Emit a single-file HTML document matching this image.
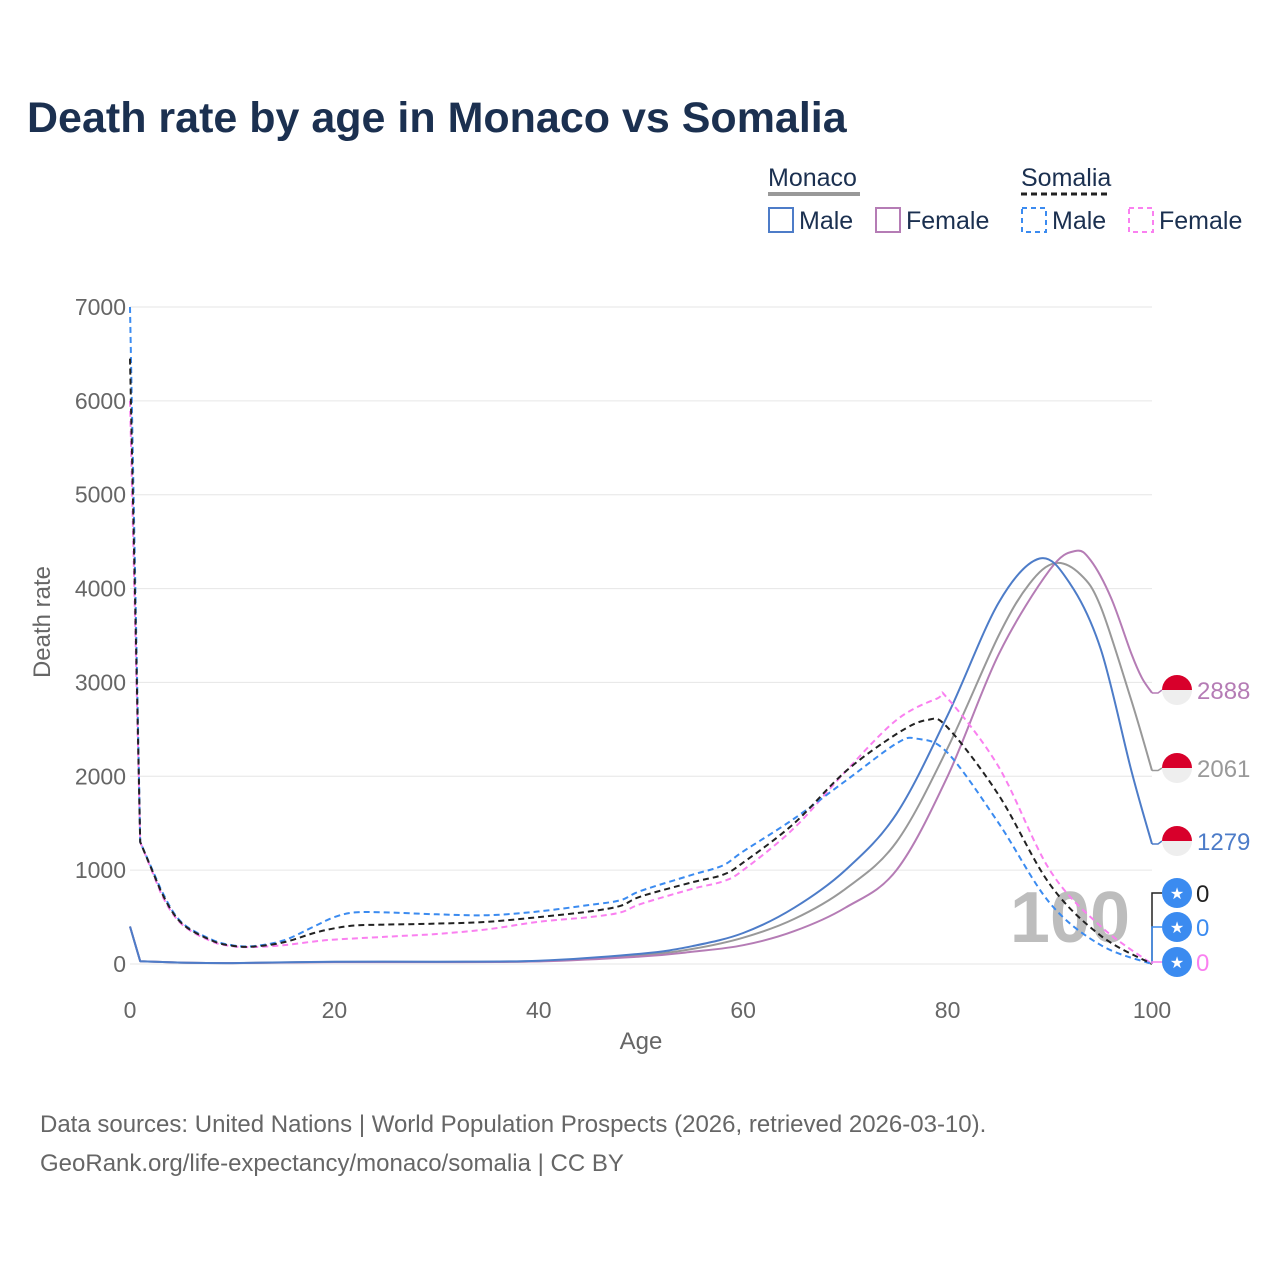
<!DOCTYPE html>
<html><head><meta charset="utf-8">
<style>
body{margin:0;background:#fff;width:1280px;height:1280px;overflow:hidden;font-family:"Liberation Sans",sans-serif;}
svg text{font-family:"Liberation Sans",sans-serif;}
</style></head>
<body>
<svg id="chart" width="1280" height="1280" viewBox="0 0 1280 1280">
<text x="27" y="132" font-size="43" font-weight="bold" fill="#1b3050">Death rate by age in Monaco vs Somalia</text>
<g>
<text x="768" y="186" font-size="25" fill="#1b3050">Monaco</text>
<line x1="768" y1="194" x2="860" y2="194" stroke="#999" stroke-width="4"/>
<text x="1021" y="186" font-size="25" fill="#1b3050">Somalia</text>
<line x1="1021" y1="194" x2="1110" y2="194" stroke="#222" stroke-width="3" stroke-dasharray="6,4"/>
<g><rect x="769" y="208" width="24" height="24" fill="none" stroke="#4d7cc8" stroke-width="2"/><text x="799" y="229" font-size="25" fill="#1b3050">Male</text></g>
<g><rect x="876" y="208" width="24" height="24" fill="none" stroke="#b57cb5" stroke-width="2"/><text x="906" y="229" font-size="25" fill="#1b3050">Female</text></g>
<g><rect x="1022" y="208" width="24" height="24" fill="none" stroke="#3b8bf0" stroke-width="2" stroke-dasharray="5,4"/><text x="1052" y="229" font-size="25" fill="#1b3050">Male</text></g>
<g><rect x="1129" y="208" width="24" height="24" fill="none" stroke="#fa80f0" stroke-width="2" stroke-dasharray="5,4"/><text x="1159" y="229" font-size="25" fill="#1b3050">Female</text></g>
</g>
<g id="grid"></g>
<text x="1070" y="942" font-size="72" font-weight="bold" fill="#bdbdbd" text-anchor="middle">100</text>
<g id="series"></g>
<g id="axes"></g>
<g id="markers"></g>
<text x="40" y="1132" font-size="24" fill="#666">Data sources: United Nations | World Population Prospects (2026, retrieved 2026-03-10).</text>
<text x="40" y="1171" font-size="24" fill="#666">GeoRank.org/life-expectancy/monaco/somalia | CC BY</text>
</svg>
<script>
const yTicks=[0,1000,2000,3000,4000,5000,6000,7000];
const xTicks=[0,20,40,60,80,100];
const monMaleAges=[0,1,5,10,20,30,40,50,55,60,65,70,75,80,85,89,92,95,98,100];
const monMaleVals=[400,30,15,10,25,25,35,110,190,330,600,1000,1600,2650,3850,4320,4050,3350,2050,1279];
const monTotAges=[0,1,5,10,20,30,40,50,55,60,65,70,75,80,85,88,90.5,93,95,98,100];
const monTotVals=[400,30,15,10,22,22,30,95,160,280,480,800,1300,2300,3500,4050,4270,4150,3800,2800,2061];
const monFemAges=[0,1,5,10,20,30,40,50,55,60,65,70,75,80,85,90,92.5,94,96,98,99,100];
const monFemVals=[400,30,15,10,20,20,28,80,130,200,350,600,1000,2000,3300,4200,4400,4300,3900,3300,3050,2888];
const somMaleAges=[0,1,3,5,8,10,12,15,18,20,22,25,30,35,40,45,48,50,55,58,60,65,70,75,77,80,85,90,95,100];
const somMaleVals=[7000,1300,800,450,260,200,190,250,400,500,550,550,530,520,560,630,680,780,950,1050,1200,1550,1950,2350,2400,2250,1500,650,200,0];
const somTotAges=[0,1,3,5,8,10,12,15,18,20,22,25,30,35,40,45,48,50,55,58,60,65,70,75,78,80,85,90,95,100];
const somTotVals=[6450,1300,780,440,250,195,185,230,330,380,410,420,430,450,500,560,620,720,870,950,1080,1500,2050,2450,2600,2520,1800,850,300,0];
const somFemAges=[0,1,3,5,8,10,12,15,18,20,25,30,35,40,45,48,50,55,58,60,65,70,75,79,80,85,90,95,100];
const somFemVals=[6000,1300,760,430,240,190,180,200,240,260,290,320,370,450,500,550,640,800,880,1000,1450,2050,2600,2830,2830,2100,1000,400,0];

const NS="http://www.w3.org/2000/svg";
const X0=130,X1=1152,Y0=964,Y1=307;
const xs=a=>X0+(a/100)*(X1-X0);
const ys=v=>Y0-(v/7000)*(Y0-Y1);
function mk(t,attrs,parent){const e=document.createElementNS(NS,t);for(const k in attrs)e.setAttribute(k,attrs[k]);parent.appendChild(e);return e;}
const grid=document.getElementById('grid'),axes=document.getElementById('axes'),series=document.getElementById('series'),markers=document.getElementById('markers');
yTicks.forEach(v=>{
 const l=mk('line',{x1:X0,x2:X1,y1:ys(v),y2:ys(v),stroke:'#e6e6e6','stroke-width':1},grid);
 
 
 const t=mk('text',{x:126,y:ys(v)+8,'font-size':23,fill:'#666','text-anchor':'end'},axes);
 t.textContent=v;
 
 
});
xTicks.forEach(a=>{
 const t=mk('text',{x:xs(a),y:1018,'font-size':23,fill:'#666','text-anchor':'middle'},axes);
 t.textContent=a;
 
 
});
const xt=mk('text',{x:641,y:1049,'font-size':24,fill:'#666','text-anchor':'middle'},axes);
xt.textContent='Age';


const yt=mk('text',{x:0,y:0,'font-size':24,fill:'#666','text-anchor':'middle',transform:'translate(50,622) rotate(-90)'},axes);
yt.textContent='Death rate';



function line(ages,vals,color,dash,name){
 const P=ages.map((a,i)=>[xs(a),ys(vals[i])]);
 let d='M'+P[0][0].toFixed(1)+','+P[0][1].toFixed(1);
 for(let i=0;i<P.length-1;i++){
  const p0=P[Math.max(0,i-1)],p1=P[i],p2=P[i+1],p3=P[Math.min(P.length-1,i+2)];
  let t=0.5;
  if(i<2) t=0; // keep sharp infant drop
  const c1=[p1[0]+(p2[0]-p0[0])*t/3,p1[1]+(p2[1]-p0[1])*t/3];
  const c2=[p2[0]-(p3[0]-p1[0])*t/3,p2[1]-(p3[1]-p1[1])*t/3];
  d+=' C'+c1[0].toFixed(1)+','+c1[1].toFixed(1)+' '+c2[0].toFixed(1)+','+c2[1].toFixed(1)+' '+p2[0].toFixed(1)+','+p2[1].toFixed(1);
 }
 const p=mk('path',{d:d,fill:'none',stroke:color,'stroke-width':2,'stroke-linejoin':'round'},series);
 if(dash)p.setAttribute('stroke-dasharray','6,4');
 
 
}
line(monTotAges,monTotVals,'#999',false,'monaco-total-line');
line(monFemAges,monFemVals,'#b57cb5',false,'monaco-female-line');
line(monMaleAges,monMaleVals,'#4d7cc8',false,'monaco-male-line');
line(somFemAges,somFemVals,'#fa80f0',true,'somalia-female-line');
line(somMaleAges,somMaleVals,'#3b8bf0',true,'somalia-male-line');
line(somTotAges,somTotVals,'#222',true,'somalia-total-line');

function flag(y,lastV,color,name){
 mk('path',{d:`M${X1},${ys(lastV)} L1158,${ys(lastV)} L1162,${y}`,fill:'none',stroke:color,'stroke-width':1.5},markers);
 const g=mk('g',{},markers);
 
 
 mk('circle',{cx:1177,cy:y,r:15,fill:'#eee'},g);
 mk('path',{d:`M1162,${y} A15,15 0 0 1 1192,${y} Z`,fill:'#d8002b'},g);
 const t=mk('text',{x:1197,y:y+9,'font-size':24,fill:color},g);
 t.textContent=lastV;
}
flag(690,monFemVals[monFemVals.length-1],'#b57cb5','end-label-monaco-female');
flag(768,monTotVals[monTotVals.length-1],'#999','end-label-monaco-total');
flag(841,monMaleVals[monMaleVals.length-1],'#4d7cc8','end-label-monaco-male');
function star(y,lastV,color,name){
 const g=mk('g',{},markers);
 
 
 mk('path',{d:`M${X1},${ys(lastV)} L1152,${y} L1162,${y}`,fill:'none',stroke:color,'stroke-width':1.5},g);
 mk('circle',{cx:1177,cy:y,r:15,fill:'#3b8bf0'},g);
 const s=mk('text',{x:1177,y:y+6,'font-size':16,fill:'#fff','text-anchor':'middle'},g);
 s.textContent='★';
 const t=mk('text',{x:1196,y:y+9,'font-size':24,fill:color},g);
 t.textContent=lastV;
}
star(893,somTotVals[somTotVals.length-1],'#222','end-label-somalia-total');
star(927,somMaleVals[somMaleVals.length-1],'#3b8bf0','end-label-somalia-male');
star(962,somFemVals[somFemVals.length-1],'#fa80f0','end-label-somalia-female');
</script>
</body></html>
